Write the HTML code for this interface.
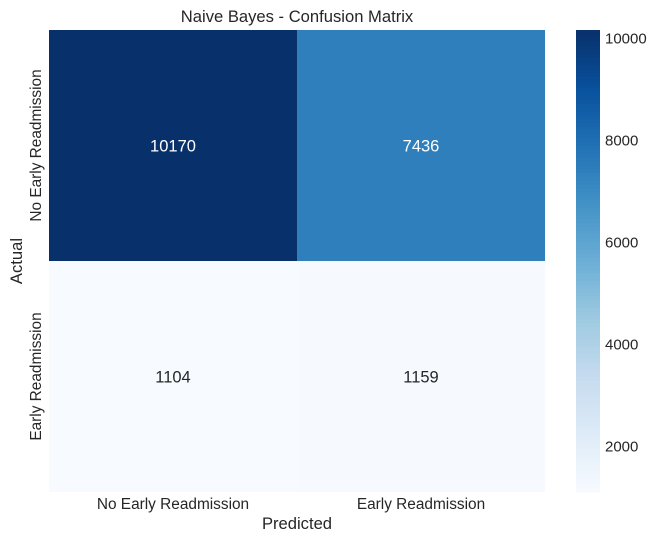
<!DOCTYPE html>
<html><head><meta charset="utf-8"><style>body{margin:0;background:#fff}svg{display:block;font-family:"Liberation Sans","DejaVu Sans",sans-serif}</style></head>
<body>
<svg id="c" width="656" height="541"></svg>
<script>
const rowLabels=["No Early Readmission","Early Readmission"];
const colLabels=["No Early Readmission","Early Readmission"];
const values=[[10170,7436],[1104,1159]];
const cbTicks=[2000,4000,6000,8000,10000];
const NS="http://www.w3.org/2000/svg";
const svg=document.getElementById('c');
const X0=49,X1=545,Y0=30,Y1=492;
const flat=values.flat();const vmin=Math.min(...flat),vmax=Math.max(...flat);
const blues=[[247,251,255],[222,235,247],[198,219,239],[158,202,225],[107,174,214],[66,146,198],[33,113,181],[8,81,156],[8,48,107]];
function color(v){let t=(v-vmin)/(vmax-vmin);t=Math.max(0,Math.min(1,t))*(blues.length-1);const i=Math.min(Math.floor(t),blues.length-2),f=t-i;const c=blues[i].map((a,k)=>Math.round(a+(blues[i+1][k]-a)*f));return `rgb(${c})`;}
function mk(tag,attrs,txt){const e=document.createElementNS(NS,tag);for(const k in attrs)e.setAttribute(k,attrs[k]);if(txt!==undefined)e.textContent=txt;svg.appendChild(e);return e;}
const cw=(X1-X0)/colLabels.length,ch=(Y1-Y0)/rowLabels.length;
values.forEach((row,r)=>row.forEach((v,c)=>{
 const rect=mk('rect',{x:X0+c*cw,y:Y0+r*ch,width:cw,height:ch,fill:color(v)});
 
 
 const t=mk('text',{x:X0+(c+.5)*cw,y:Y0+(r+.5)*ch+6,'text-anchor':'middle','font-size':16.5,fill:(v-vmin)/(vmax-vmin)>0.5?'#fff':'#262626'},v);
 
 
}));
colLabels.forEach((l,c)=>{const t=mk('text',{x:X0+(c+.5)*cw,y:509,'text-anchor':'middle','font-size':15.4,fill:'#262626'},l);
 
 });
rowLabels.forEach((l,r)=>{const y=Y0+(r+.5)*ch;const t=mk('text',{x:41,y:y,'text-anchor':'middle','font-size':15.4,fill:'#262626',transform:`rotate(-90 41 ${y})`},l);
 
 });
let t=mk('text',{x:297,y:529,'text-anchor':'middle','font-size':16.6,fill:'#262626'},'Predicted');
t=mk('text',{x:22,y:261,'text-anchor':'middle','font-size':16.6,fill:'#262626',transform:'rotate(-90 22 261)'},'Actual');
t=mk('text',{x:297,y:22,'text-anchor':'middle','font-size':16.6,fill:'#262626'},'Naive Bayes - Confusion Matrix');
const CX=576,CW=24,N=120;
for(let i=0;i<N;i++){const v=vmin+(vmax-vmin)*i/N;const y0=Y1-(Y1-Y0)*(i+1)/N;
 const r=mk('rect',{x:CX,y:y0,width:CW,height:(Y1-Y0)/N+0.6,fill:color(v+(vmax-vmin)/(2*N))});
 }
cbTicks.forEach(v=>{const y=Y1-(v-vmin)/(vmax-vmin)*(Y1-Y0);
 const l=mk('text',{x:605,y:y+5,'font-size':15,fill:'#262626'},v);
 });
</script>
</body></html>
